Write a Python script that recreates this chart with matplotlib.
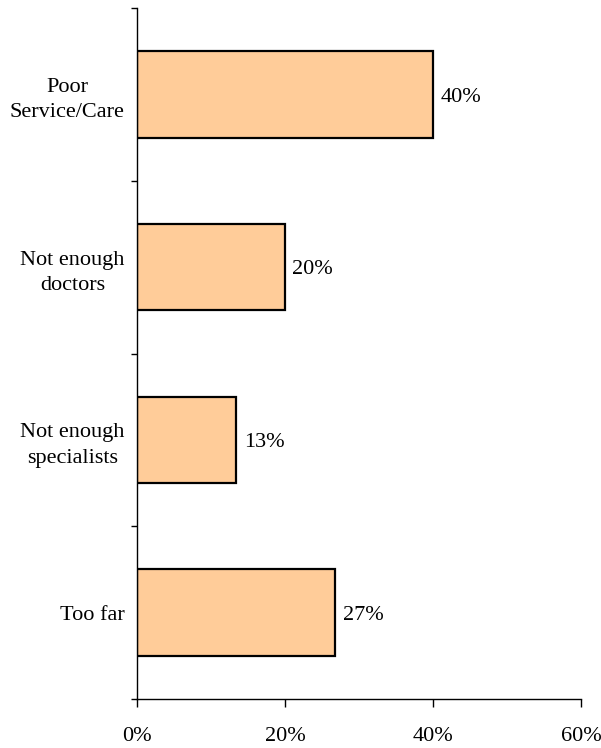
import matplotlib
matplotlib.use("Agg")
import matplotlib.pyplot as plt
import numpy as np

plt.rcParams["font.family"] = ["Liberation Serif", "DejaVu Serif"]

categories = ["Poor\nService/Care", "Not enough\ndoctors", "Not enough\nspecialists", "Too far"]
values = [40, 20, 13.4, 26.8]
value_labels = ["40%", "20%", "13%", "27%"]
x_ticks = [0, 20, 40, 60]
x_tick_labels = ["0%", "20%", "40%", "60%"]

BAR_COLOR = "#FFCC99"
FS = 16


def main():
    fig = plt.figure(figsize=(6.01, 7.48), dpi=100)
    ax = fig.add_axes([0.228, 0.0655, 0.739, 0.9235])

    pos = np.arange(len(categories))
    ax.barh(pos, values, height=0.5, color=BAR_COLOR, edgecolor="black", linewidth=1.6)

    for p, v, lab in zip(pos, values, value_labels):
        ax.text(v + 1.0, p, lab, va="center_baseline", ha="left", fontsize=FS)

    ax.set_xlim(0, 60)
    ax.set_ylim(len(categories) - 0.5, -0.5)

    ax.set_xticks(x_ticks)
    ax.set_xticklabels(x_tick_labels, fontsize=FS)
    ax.tick_params(axis="x", direction="out", length=6, width=1, pad=14)

    ax.set_yticks(pos)
    ax.set_yticklabels(categories, fontsize=FS, ma="center", linespacing=1.45)
    ax.tick_params(axis="y", which="major", length=0, pad=9)
    ax.set_yticks(np.arange(len(categories) + 1) - 0.5, minor=True)
    ax.tick_params(axis="y", which="minor", direction="out", length=4.5, width=1)

    ax.spines["top"].set_visible(False)
    ax.spines["right"].set_visible(False)
    for s in ("left", "bottom"):
        ax.spines[s].set_linewidth(1)

    fig.savefig("out.png", dpi=100, facecolor="white")
    plt.close(fig)


if __name__ == "__main__":
    main()
